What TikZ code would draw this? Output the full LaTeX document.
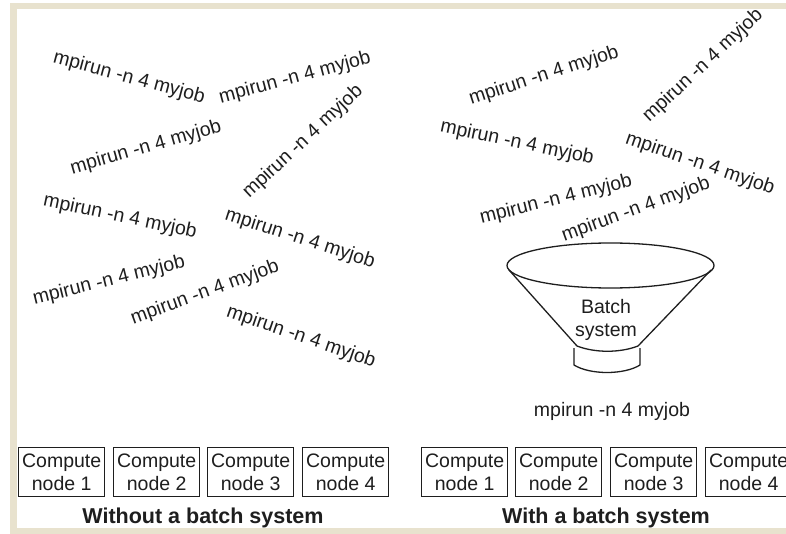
\documentclass[tikz,border=0pt]{standalone}
\usepackage{fontspec}
\setmainfont{Liberation Sans}
\definecolor{framebeige}{RGB}{232,226,206}
\definecolor{ink}{RGB}{30,30,30}
\begin{document}
\begin{tikzpicture}[x=1pt,y=-1pt,
  cmd/.style={inner sep=0pt,text=ink,font=\fontsize{19.5}{23}\selectfont},
  cbox/.style={draw=ink,line width=1.3pt,minimum width=86pt,minimum height=49pt,inner sep=0pt,anchor=north west,align=center,text=ink,font=\fontsize{19.5}{23}\selectfont},
  caption/.style={inner sep=0pt,text=ink,font=\fontsize{21.5}{25}\selectfont\bfseries},
  funnel/.style={draw=ink,line width=1.3pt}]
\useasboundingbox (0,0) rectangle (786,534);
\fill[white] (0,0) rectangle (786,534);
\fill[framebeige] (10,3) rectangle (786,534);
\fill[white] (17,9) rectangle (786,528);
\begin{scope}
\clip (17,9) rectangle (786,528);
% left panel
\node[cmd,rotate=-15] (l1) at (129,78) {mpirun -n 4 myjob};
\node[cmd,rotate=15] (l2) at (295,78) {mpirun -n 4 myjob};
\node[cmd,rotate=16] (l3) at (146,148) {mpirun -n 4 myjob};
\node[cmd,rotate=43] (l4) at (303,142) {mpirun -n 4 myjob};
\node[cmd,rotate=-12] (l5) at (120,217) {mpirun -n 4 myjob};
\node[cmd,rotate=-18] (l6) at (300,239) {mpirun -n 4 myjob};
\node[cmd,rotate=14] (l7) at (109,281) {mpirun -n 4 myjob};
\node[cmd,rotate=20] (l8) at (205,293) {mpirun -n 4 myjob};
\node[cmd,rotate=-19] (l9) at (301,337) {mpirun -n 4 myjob};
% right panel
\node[cmd,rotate=18] (r1) at (544,76) {mpirun -n 4 myjob};
\node[cmd,rotate=43] (r2) at (703,66) {mpirun -n 4 myjob};
\node[cmd,rotate=-12] (r3) at (517,143) {mpirun -n 4 myjob};
\node[cmd,rotate=-19] (r4) at (700,164) {mpirun -n 4 myjob};
\node[cmd,rotate=14] (r5) at (556,200) {mpirun -n 4 myjob};
\node[cmd,rotate=20] (r6) at (636,210) {mpirun -n 4 myjob};
\node[cmd] (r7) at (612,411) {mpirun -n 4 myjob};
% funnel
\draw[funnel] (610.5,265.5) ellipse [x radius=103.5, y radius=22.5];
\draw[funnel] (509,270) -- (577,346) .. controls (595,353) and (620,353) .. (638,346) -- (711,270);
\draw[funnel] (574,348) -- (574,365) .. controls (590,375) and (624,375) .. (640,365) -- (640,348);
\node[cmd,align=center] (bs) at (606,320) {Batch\\system};
% compute nodes
\node[cbox] (lc1) at (18,447) {Compute\\node 1};
\node[cbox] (lc2) at (113,447) {Compute\\node 2};
\node[cbox] (lc3) at (207,447) {Compute\\node 3};
\node[cbox] (lc4) at (302,447) {Compute\\node 4};
\node[cbox] (rc1) at (421,447) {Compute\\node 1};
\node[cbox] (rc2) at (515,447) {Compute\\node 2};
\node[cbox] (rc3) at (610,447) {Compute\\node 3};
\node[cbox] (rc4) at (705,447) {Compute\\node 4};
\node[caption] (capl) at (203,518) {Without a batch system};
\node[caption] (capr) at (606,518) {With a batch system};
\end{scope}
\end{tikzpicture}
\end{document}
